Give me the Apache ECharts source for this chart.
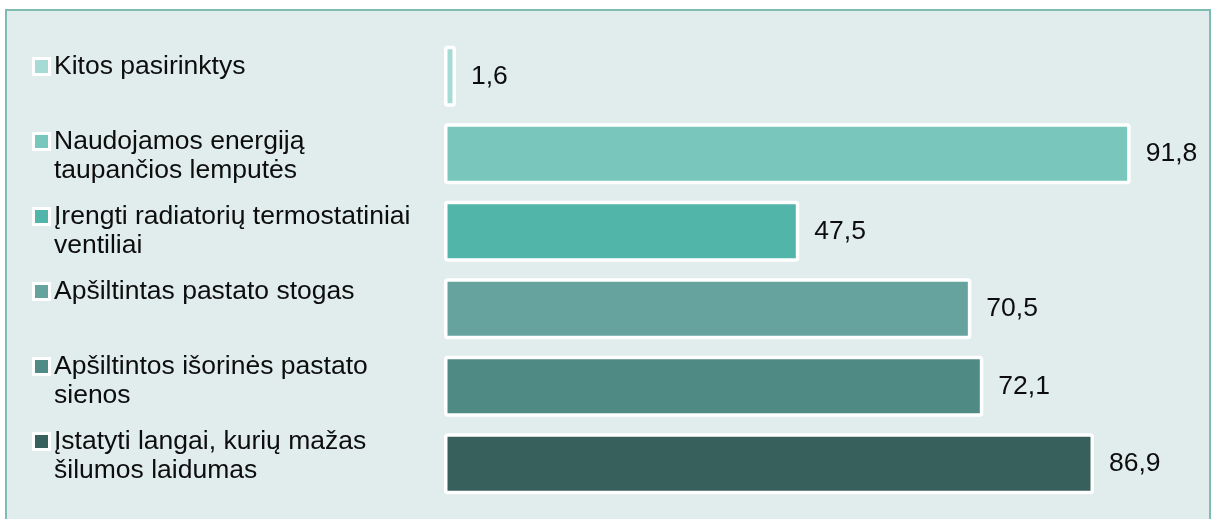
<!DOCTYPE html>
<html>
<head>
<meta charset="utf-8">
<script src="https://cdn.jsdelivr.net/npm/echarts@6/dist/echarts.min.js"></script>
<style>
html,body{margin:0;padding:0;background:#ffffff;}
#chart{width:1211px;height:519px;}
</style>
</head>
<body>
<div id="chart"></div>
<script>
const categories = [
  "Kitos pasirinktys",
  "Naudojamos energiją\ntaupančios lemputės",
  "Įrengti radiatorių termostatiniai\nventiliai",
  "Apšiltintas pastato stogas",
  "Apšiltintos išorinės pastato\nsienos",
  "Įstatyti langai, kurių mažas\nšilumos laidumas"
];
const values = [1.6, 91.8, 47.5, 70.5, 72.1, 86.9];
const colors = ["#a6dad4", "#79c6bd", "#52b5a9", "#66a39f", "#508a85", "#375f5b"];

const FONT = "'Liberation Sans', Arial, sans-serif";

const rich = {
  t: { fontSize: 26.5, lineHeight: 29, color: "#0d0d0d", fontFamily: FONT, padding: [0, 0, 0, 6] },
  sp: { width: 13, height: 13 }
};
colors.forEach((c, i) => {
  rich["m" + i] = { width: 13, height: 13, backgroundColor: c, borderColor: "#ffffff", borderWidth: 3 };
});

const chart = echarts.init(document.getElementById("chart"), null, { renderer: "canvas" });
chart.setOption({
  animation: false,
  backgroundColor: "transparent",
  graphic: [{
    type: "rect",
    z: -10,
    shape: { x: 6, y: 10, width: 1204, height: 530 },
    style: { fill: "#e1eded", stroke: "#7ebbb2", lineWidth: 2 }
  }],
  grid: [
    { left: 444, width: 748, top: 37.5, height: 465 },
    { left: 35, width: 10, top: 14.5, height: 450 }
  ],
  xAxis: [
    { gridIndex: 0, type: "value", min: 0, max: 100, show: false },
    { gridIndex: 1, type: "value", min: 0, max: 1, show: false }
  ],
  yAxis: [
    { gridIndex: 0, type: "category", data: categories, inverse: true, show: false },
    {
      gridIndex: 1, type: "category", data: categories, inverse: true,
      axisLine: { show: false }, axisTick: { show: false }, splitLine: { show: false },
      axisLabel: {
        show: true, margin: 0, align: "left", verticalAlign: "top", interval: 0,
        formatter: function (value, index) {
          const lines = value.split("\n");
          return lines.map((ln, k) => (k === 0 ? "{m" + index + "|}" : "{sp|}") + "{t|" + ln + "}").join("\n");
        },
        rich: rich
      }
    }
  ],
  series: [{
    type: "bar",
    xAxisIndex: 0, yAxisIndex: 0,
    barWidth: 61,
    data: values.map((v, i) => ({ value: v, itemStyle: { color: colors[i] } })),
    itemStyle: { borderColor: "#ffffff", borderWidth: 3.5, borderRadius: 2 },
    label: {
      show: true, position: "right", distance: 15,
      fontSize: 26.5, color: "#0d0d0d", fontFamily: FONT,
      formatter: p => p.value.toFixed(1).replace(".", ",")
    }
  }]
});
</script>
</body>
</html>
